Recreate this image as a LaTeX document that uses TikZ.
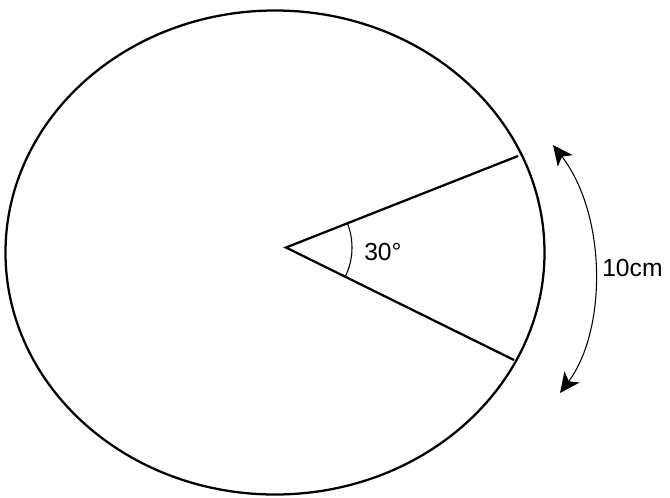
\documentclass[tikz,border=0pt]{standalone}
\usepackage{fontspec}
\setmainfont{Liberation Sans}
\usetikzlibrary{arrows.meta}
\tikzset{dimhead/.tip={Stealth[length=15pt,width=14pt,inset=4pt]}}
\begin{document}
\begin{tikzpicture}[x=0.75pt,y=-0.75pt,
  thick line/.style={line width=1.7pt, black},
  thin line/.style={line width=0.8pt, black},
  lbl/.style={font=\fontsize{18.5}{20}\selectfont, inner sep=0pt}]
\useasboundingbox (0,0) rectangle (670,497);
\coordinate (C) at (275,252.5);
\coordinate (O) at (286,247.5);
\coordinate (A) at (518,156);
\coordinate (B) at (514,360);
\coordinate (T) at (553,145);
\coordinate (D) at (560,393);
% ellipse
\draw[thick line] (C) ellipse [x radius=269.5, y radius=242];
% radii
\draw[thick line] (A) -- (O) -- (B);
% angle arc
\draw[thin line] ([shift={(-21.5:66)}]O) arc[start angle=-21.5, end angle=26.3, radius=66];
\node[lbl, anchor=west] (ang) at (364,252) {30°};
% arc length dimension
\draw[thin line, dimhead-dimhead]
  (T) .. controls (607,215) and (607,330) .. (D);
\node[lbl, anchor=west] (len) at (602,268) {10cm};
\end{tikzpicture}
\end{document}
